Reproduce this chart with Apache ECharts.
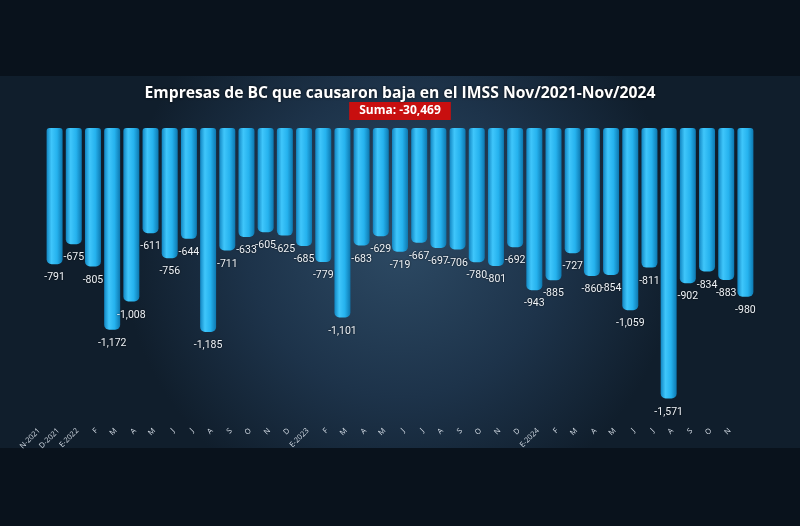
<!DOCTYPE html>
<html>
<head>
<meta charset="utf-8">
<script src="https://cdn.jsdelivr.net/npm/echarts@6/dist/echarts.min.js"></script>
<style>
  html, body { margin: 0; padding: 0; background: #08111b; }
  #chart { width: 800px; height: 526px; }
</style>
</head>
<body>
<div id="chart"></div>
<script>
// meses Nov/2021 - Nov/2024
const categories = [
  'N-2021', 'D-2021', 'E-2022', 'F', 'M', 'A', 'M', 'J', 'J', 'A', 'S', 'O', 'N', 'D',
  'E-2023', 'F', 'M', 'A', 'M', 'J', 'J', 'A', 'S', 'O', 'N', 'D',
  'E-2024', 'F', 'M', 'A', 'M', 'J', 'J', 'A', 'S', 'O', 'N'
];
// empresas que causaron baja por mes
const bajas = [
  -791, -675, -805, -1172, -1008, -611, -756, -644, -1185, -711, -633, -605, -625, -685,
  -779, -1101, -683, -629, -719, -667, -697, -706, -780, -801, -692, -943,
  -885, -727, -860, -854, -1059, -811, -1571, -902, -834, -883, -980
];

const fmt = (v) => v.toLocaleString('en-US');
const suma = bajas.reduce((a, b) => a + b, 0);

const chart = echarts.init(document.getElementById('chart'));

chart.setOption({
  animation: false,
  backgroundColor: '#09121c',
  graphic: [
    {
      type: 'rect',
      z: -10,
      shape: { x: 0, y: 76, width: 800, height: 372 },
      style: {
        fill: {
          type: 'radial', x: 0.5, y: 0.45, r: 0.75,
          colorStops: [
            { offset: 0, color: '#2d4a64' },
            { offset: 0.55, color: '#1d334a' },
            { offset: 1, color: '#101e2c' }
          ]
        }
      }
    }
  ],
  title: [
    {
      text: 'Empresas de BC que causaron baja en el IMSS Nov/2021-Nov/2024',
      left: 'center',
      top: 81,
      textStyle: {
        color: '#ffffff',
        fontFamily: 'Open Sans',
        fontWeight: 'bold',
        fontSize: 15.7,
        textShadowColor: 'rgba(0,0,0,0.8)',
        textShadowBlur: 3
      }
    },
    {
      text: 'Suma: ' + fmt(suma),
      left: 'center',
      top: 102,
      padding: [3, 10, 3, 10],
      backgroundColor: '#c80f0f',
      textStyle: {
        color: '#ffffff',
        fontFamily: 'Open Sans',
        fontWeight: 'bold',
        fontSize: 12
      }
    }
  ],
  grid: {
    left: 45,
    right: 45,
    top: 128,
    bottom: 126
  },
  xAxis: {
    type: 'category',
    data: categories,
    position: 'bottom',
    axisLine: { show: false },
    axisTick: { show: false },
    axisLabel: {
      interval: 0,
      rotate: 45,
      margin: 14,
      padding: [0, 22, 0, 0],
      color: '#d5dde6',
      fontSize: 7.5,
      fontFamily: 'Open Sans'
    }
  },
  yAxis: {
    type: 'value',
    min: -1580,
    max: 0,
    show: false,
    splitLine: { show: false }
  },
  series: [
    {
      type: 'bar',
      data: bajas,
      barWidth: 16,
      itemStyle: {
        borderRadius: [3, 3, 5, 5],
        color: {
          type: 'linear', x: 0, y: 0, x2: 1, y2: 0,
          colorStops: [
            { offset: 0, color: '#1286c2' },
            { offset: 0.3, color: '#3fc6fb' },
            { offset: 0.65, color: '#25b2ee' },
            { offset: 1, color: '#0d78b0' }
          ]
        }
      },
      label: {
        show: true,
        position: 'bottom',
        distance: 8,
        formatter: (p) => fmt(p.value),
        color: '#eef3f8',
        fontSize: 10.5,
        fontFamily: 'Roboto',
        textShadowColor: 'rgba(0,0,0,0.9)',
        textShadowBlur: 2
      }
    }
  ]
});
</script>
</body>
</html>
